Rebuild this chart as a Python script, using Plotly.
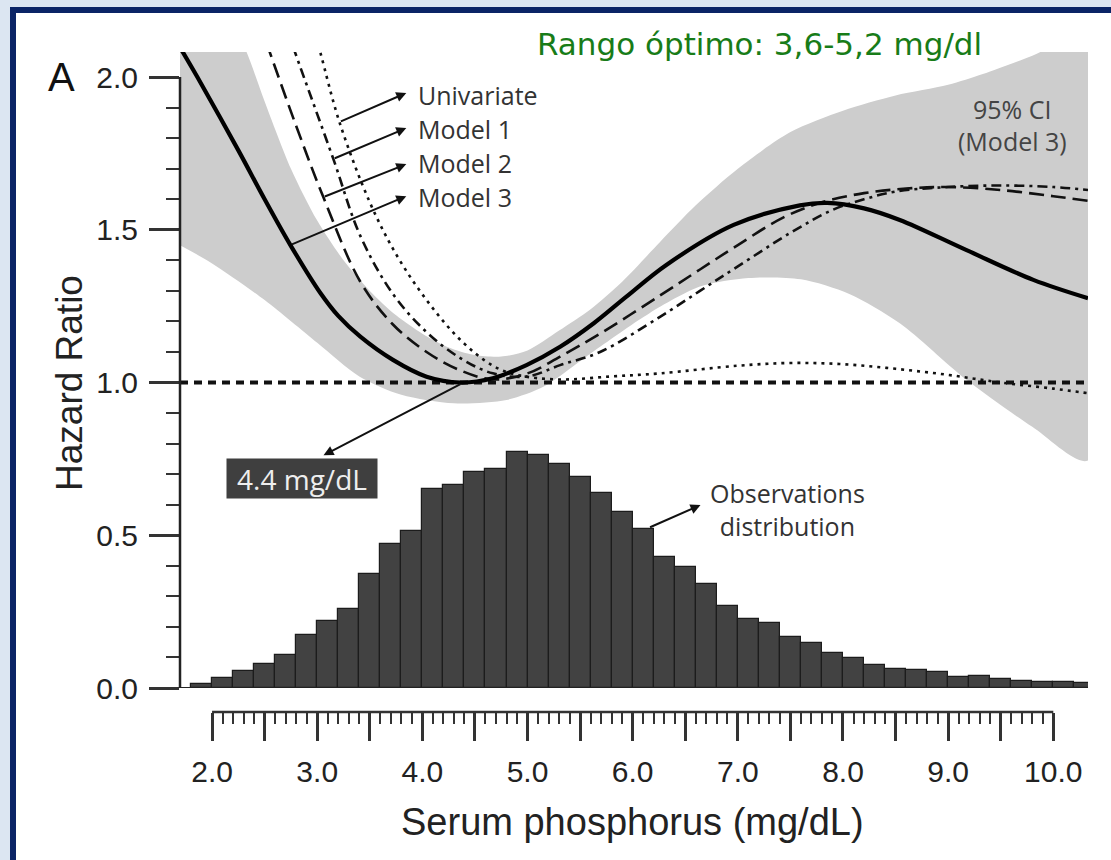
import plotly.graph_objects as go

# ---------------- data ----------------
# histogram of observations (bin centres, bin width 0.2 mg/dL)
bin_centers = [1.9, 2.1, 2.3, 2.5, 2.7, 2.9, 3.1, 3.3, 3.5, 3.7, 3.9, 4.1, 4.3, 4.5,
               4.7, 4.9, 5.1, 5.3, 5.5, 5.7, 5.9, 6.1, 6.3, 6.5, 6.7, 6.9, 7.1, 7.3,
               7.5, 7.7, 7.9, 8.1, 8.3, 8.5, 8.7, 8.9, 9.1, 9.3, 9.5, 9.7, 9.9, 10.1, 10.3]
obs_freq = [0.012, 0.032, 0.057, 0.079, 0.108, 0.173, 0.220, 0.258, 0.373, 0.471, 0.515,
            0.652, 0.663, 0.706, 0.716, 0.771, 0.764, 0.734, 0.692, 0.637, 0.577, 0.519,
            0.430, 0.397, 0.339, 0.269, 0.226, 0.212, 0.166, 0.146, 0.116, 0.097, 0.075,
            0.061, 0.059, 0.051, 0.035, 0.039, 0.028, 0.024, 0.021, 0.021, 0.015]

# Model 3 (solid)
m3_x = [1.69, 1.86, 2.25, 2.5, 2.745, 3.03, 3.2, 3.41, 3.72, 4.04, 4.36, 4.67, 4.99, 5.31,
        5.63, 5.94, 6.32, 6.96, 7.59, 7.85, 8.2, 8.54, 9.17, 9.81, 10.33]
m3_y = [2.10, 2.00, 1.76, 1.60, 1.45, 1.293, 1.218, 1.15, 1.074, 1.019, 1.0, 1.014, 1.057,
        1.117, 1.194, 1.281, 1.385, 1.516, 1.580, 1.588, 1.570, 1.532, 1.434, 1.336, 1.276]

# Model 2 (long dash)
m2_x = [2.45, 2.55, 2.8, 3.058, 3.41, 3.72, 4.04, 4.36, 4.67, 5.0, 5.31, 5.69, 6.26,
        6.64, 7.0, 7.43, 7.8, 8.2, 8.6, 9.0, 9.5, 10.0, 10.33]
m2_y = [2.18, 2.08, 1.84, 1.607, 1.33, 1.19, 1.10, 1.04, 1.01, 1.03, 1.085, 1.16, 1.285,
        1.37, 1.45, 1.54, 1.59, 1.62, 1.635, 1.64, 1.63, 1.61, 1.595]

# Model 1 (dash-dot)
m1_x = [2.70, 2.79, 3.153, 3.41, 3.72, 4.04, 4.36, 4.67, 5.0, 5.31, 5.69, 6.26, 6.64,
        7.0, 7.5, 7.9, 8.2, 8.5, 9.0, 9.5, 10.0, 10.33]
m1_y = [2.17, 2.08, 1.732, 1.48, 1.29, 1.165, 1.08, 1.03, 1.02, 1.057, 1.10, 1.215, 1.30,
        1.38, 1.49, 1.565, 1.60, 1.625, 1.64, 1.645, 1.64, 1.63]

# Univariate (dotted)
uni_x = [2.95, 3.03, 3.211, 3.5, 3.75, 4.04, 4.36, 4.67, 4.9, 5.3, 5.8, 6.26, 7.0, 7.5,
         8.0, 8.5, 9.0, 9.5, 10.0, 10.33]
uni_y = [2.18, 2.08, 1.853, 1.59, 1.42, 1.27, 1.14, 1.055, 1.025, 1.01, 1.02, 1.03, 1.055,
         1.064, 1.06, 1.045, 1.025, 1.0, 0.98, 0.965]

# reference line HR = 1
ref_x = [1.695, 10.33]
ref_y = [1.0, 1.0]

# 95% CI of Model 3
ci_up_x = [1.69, 2.1, 2.33, 2.5, 2.75, 3.0, 3.25, 3.5, 3.75, 4.0, 4.25, 4.5, 4.75, 5.0,
           5.3, 5.6, 5.9, 6.26, 6.6, 7.0, 7.5, 8.0, 8.5, 9.0, 9.33, 9.8, 10.0, 10.33]
ci_up_y = [2.5, 2.25, 2.08, 1.92, 1.70, 1.53, 1.40, 1.30, 1.22, 1.16, 1.115, 1.09, 1.085, 1.105,
           1.17, 1.24, 1.33, 1.46, 1.58, 1.70, 1.82, 1.89, 1.94, 1.975, 2.01, 2.07, 2.10, 2.12]
ci_lo_x = [1.69, 2.0, 2.5, 3.0, 3.4, 3.8, 4.3, 4.8, 5.15, 5.46, 5.69, 6.16, 6.64, 7.1,
           7.6, 8.06, 8.54, 9.17, 9.8, 10.33]
ci_lo_y = [1.45, 1.39, 1.27, 1.13, 1.02, 0.96, 0.932, 0.943, 0.986, 1.06, 1.117, 1.227, 1.314,
           1.342, 1.338, 1.29, 1.194, 1.01, 0.855, 0.745]

x_major = [2.0, 2.5, 3.0, 3.5, 4.0, 4.5, 5.0, 5.5, 6.0, 6.5, 7.0, 7.5, 8.0, 8.5, 9.0, 9.5, 10.0]
x_labels = ["2.0", "", "3.0", "", "4.0", "", "5.0", "", "6.0", "", "7.0", "", "8.0", "",
            "9.0", "", "10.0"]
y_major = [0.0, 0.5, 1.0, 1.5, 2.0]
y_labels = ["0.0", "0.5", "1.0", "1.5", "2.0"]

# ---------------- geometry helpers ----------------
W, H = 1111, 860
ML, MR, MT, MB = 180, 23, 52, 148
PW, PH = W - ML - MR, H - MT - MB


def pxx(p):
    return (p - ML) / PW


def pxy(p):
    return (H - MB - p) / PH


x_minor = [round(2.0 + 0.1 * i, 1) for i in range(81) if i % 5 != 0]
y_minor = [round(0.1 * i, 1) for i in range(21) if i % 5 != 0]

fig = go.Figure()

fig.add_trace(go.Scatter(
    x=ci_up_x + ci_lo_x[::-1], y=ci_up_y + ci_lo_y[::-1],
    fill="toself", fillcolor="#cdcdcd", mode="lines",
    line=dict(width=0, color="#cdcdcd", shape="spline", smoothing=0.8),
    hoverinfo="skip", showlegend=False))

fig.add_trace(go.Bar(
    x=bin_centers, y=obs_freq, width=0.2,
    marker=dict(color="#424242", line=dict(color="#1c1c1c", width=1.2)),
    showlegend=False))

fig.add_trace(go.Scatter(x=ref_x, y=ref_y, mode="lines",
                         line=dict(color="#111", width=4, dash="8px,6px"), showlegend=False))
fig.add_trace(go.Scatter(x=uni_x, y=uni_y, mode="lines", name="Univariate",
                         line=dict(color="#111", width=2.6, dash="3px,5px", shape="spline"),
                         showlegend=False))
fig.add_trace(go.Scatter(x=m1_x, y=m1_y, mode="lines", name="Model 1",
                         line=dict(color="#111", width=2.6, dash="10px,5px,3px,5px", shape="spline"),
                         showlegend=False))
fig.add_trace(go.Scatter(x=m2_x, y=m2_y, mode="lines", name="Model 2",
                         line=dict(color="#111", width=2.6, dash="15px,7px", shape="spline"),
                         showlegend=False))
fig.add_trace(go.Scatter(x=m3_x, y=m3_y, mode="lines", name="Model 3",
                         line=dict(color="#000", width=4.2, shape="spline"),
                         showlegend=False))

tickfont = dict(family="Liberation Sans, Arial, sans-serif", size=30, color="#222")
lbl_font = dict(family="Open Sans, sans-serif", size=25, color="#333")

fig.update_layout(
    width=W, height=H,
    margin=dict(l=ML, r=MR, t=MT, b=MB, autoexpand=False),
    paper_bgcolor="#dce6f2", plot_bgcolor="rgba(0,0,0,0)",
    bargap=0, showlegend=False,
    xaxis=dict(range=[1.695, 10.33], anchor="free", position=0,
               showline=False, showgrid=False, zeroline=False,
               tickmode="array", tickvals=x_major, ticktext=x_labels,
               ticks="outside", ticklen=28, tickwidth=2.5, tickcolor="#333",
               tickfont=tickfont, ticklabelstandoff=5,
               minor=dict(tickmode="array", tickvals=x_minor, ticks="outside",
                          ticklen=11, tickwidth=2, tickcolor="#333")),
    yaxis=dict(range=[0, 2.082], domain=[(712 - 688) / PH, 1], anchor="x",
               showline=False, showgrid=False, zeroline=False,
               tickmode="array", tickvals=y_major, ticktext=y_labels,
               ticks="outside", ticklen=30, tickwidth=2.5, tickcolor="#333",
               tickfont=tickfont, ticklabelstandoff=5,
               minor=dict(tickmode="array", tickvals=y_minor, ticks="outside",
                          ticklen=13, tickwidth=2, tickcolor="#333")),
)

shapes = [
    dict(type="rect", xref="paper", yref="paper", x0=pxx(13), x1=pxx(1130), y0=pxy(880), y1=pxy(10),
         line=dict(color="#0b2466", width=6), fillcolor="white", layer="below"),
    dict(type="line", xref="paper", yref="y", x0=0, x1=0, y0=0, y1=2.0,
         line=dict(color="#222", width=2.5)),
    dict(type="line", xref="paper", yref="y", x0=0, x1=1, y0=0, y1=0,
         line=dict(color="#222", width=2)),
    dict(type="line", xref="x", yref="paper", x0=2.0, x1=10.0, y0=0, y1=0,
         line=dict(color="#333", width=2.5)),
]
fig.update_layout(shapes=shapes)

ann = []
# titles
ann.append(dict(text="Rango óptimo: 3,6-5,2 mg/dl", xref="paper", yref="paper",
                x=pxx(759), y=pxy(44), xanchor="center", yanchor="middle", showarrow=False,
                font=dict(family="DejaVu Sans, sans-serif", size=31, color="#187c18")))
ann.append(dict(text="A", xref="paper", yref="paper", x=pxx(61), y=pxy(77),
                xanchor="center", yanchor="middle", showarrow=False,
                font=dict(family="Liberation Sans, Arial", size=40, color="#111")))
ann.append(dict(text="Hazard Ratio", xref="paper", yref="paper", x=pxx(70), y=pxy(383),
                xanchor="center", yanchor="middle", showarrow=False, textangle=-90,
                font=dict(family="Liberation Sans, Arial", size=37, color="#222")))
ann.append(dict(text="Serum phosphorus (mg/dL)", xref="paper", yref="paper", x=pxx(632),
                y=pxy(822), xanchor="center", yanchor="middle", showarrow=False,
                font=dict(family="Liberation Sans, Arial", size=38, color="#222")))

# model labels with arrows
labels = [("Univariate", 95, (3.211, 1.853), (3.847, 1.948)),
          ("Model 1", 129, (3.153, 1.732), (3.847, 1.833)),
          ("Model 2", 163, (3.058, 1.607), (3.847, 1.715)),
          ("Model 3", 197, (2.745, 1.450), (3.847, 1.610))]
for txt, ypix, tail, head in labels:
    ann.append(dict(text=txt, xref="paper", yref="paper", x=pxx(416), y=pxy(ypix),
                    xanchor="left", yanchor="middle", showarrow=False, font=lbl_font))
    ann.append(dict(text="", xref="x", yref="y", axref="x", ayref="y",
                    x=head[0], y=head[1], ax=tail[0], ay=tail[1], showarrow=True,
                    arrowhead=2, arrowsize=1, arrowwidth=2, arrowcolor="#111"))

ci_font = dict(family="Open Sans, sans-serif", size=25, color="#444")
ann.append(dict(text="95% CI", xref="paper", yref="paper", x=pxx(1012), y=pxy(109),
                xanchor="center", yanchor="middle", showarrow=False, font=ci_font))
ann.append(dict(text="(Model 3)", xref="paper", yref="paper", x=pxx(1012), y=pxy(141),
                xanchor="center", yanchor="middle", showarrow=False, font=ci_font))

# optimum marker
ann.append(dict(text="4.4 mg/dL", xref="paper", yref="paper", x=pxx(302), y=pxy(478),
                xanchor="center", yanchor="middle", showarrow=False, width=150, height=39,
                bgcolor="#3f3f3f", borderpad=0,
                font=dict(family="Open Sans, sans-serif", size=28, color="#eeeeee")))
ann.append(dict(text="", xref="x", yref="y", axref="x", ayref="y",
                x=3.06, y=0.762, ax=4.376, ay=0.997, showarrow=True,
                arrowhead=2, arrowsize=1, arrowwidth=2, arrowcolor="#111"))

# observations distribution
ann.append(dict(text="Observations<br>distribution", xref="paper", yref="paper",
                x=pxx(787), y=pxy(509), xanchor="center", yanchor="middle", showarrow=False,
                font=lbl_font))
ann.append(dict(text="", xref="x", yref="y", axref="x", ayref="y",
                x=6.645, y=0.599, ax=6.151, ay=0.524, showarrow=True,
                arrowhead=2, arrowsize=1, arrowwidth=2, arrowcolor="#111"))

fig.update_layout(annotations=ann)

fig.write_html("out.html")
